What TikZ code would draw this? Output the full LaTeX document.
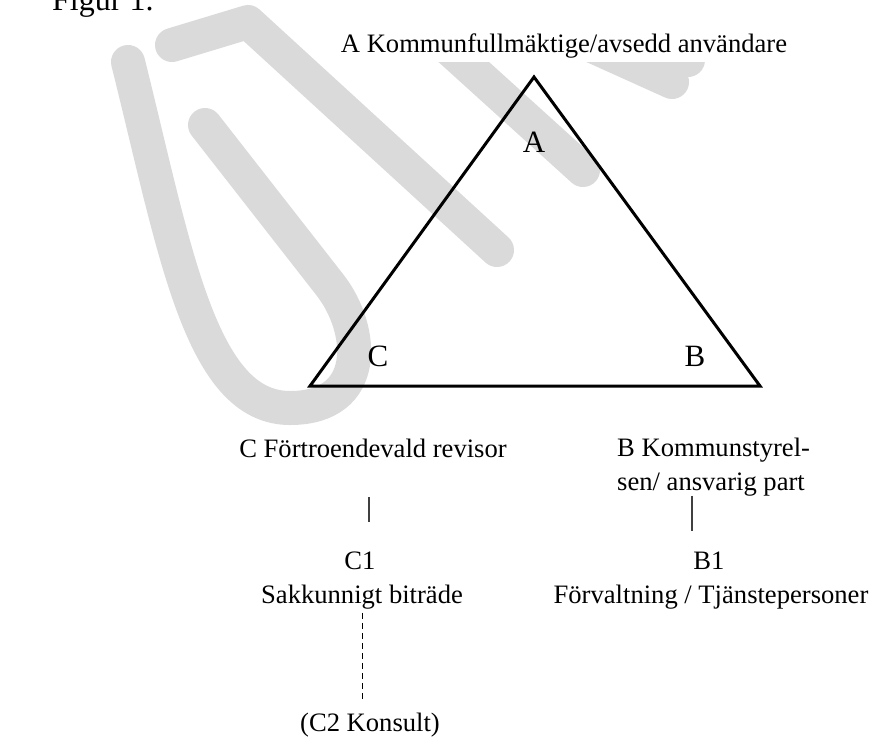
\documentclass[tikz,border=0pt]{standalone}
\usepackage{fontspec}
\setmainfont{Liberation Serif}
\usepackage{xcolor}
\definecolor{stampgrey}{HTML}{DADADA}

\begin{document}
\begin{tikzpicture}[x=1pt,y=-1pt,
				txt/.style={inner sep=0pt,font=\fontsize{26.6}{32}\selectfont},
				corner/.style={inner sep=0pt,font=\fontsize{31}{36}\selectfont},
				link/.style={line width=1.4pt,black!75},
				hint/.style={line width=0.9pt,dash pattern=on 6pt off 4pt},
				stamp/.style={line width=34pt,stampgrey,line cap=round,line join=round}]
				%\draw[help lines,step=50] (0,0) grid (870,740);
				\useasboundingbox (0,0) rectangle (870,740);
				
				% watermark
				\draw[stamp] (172,45) -- (248,22) -- (497,250);
				\draw[stamp] (128,62) .. controls (175,250) and (200,408) .. (290,408)
					.. controls (370,408) and (365,330) .. (330,285) -- (205,125);
				\draw[stamp] (445,45) -- (583,170);
				\draw[stamp] (590,45) -- (672,82);
				\draw[stamp] (600,20) -- (688,60);
				\fill[white] (335,0) rectangle (800,62);
				
				% triangle
				\coordinate (top) at (534,77);
				\coordinate (left) at (310,386);
				\coordinate (right) at (760,386);
				\draw[line width=3pt] (top) -- (right) -- (left) -- cycle;
				\node[corner] (A) at (534,142) {A};
				\node[corner] (B) at (695,356) {B};
				\node[corner] (C) at (378,356) {C};
				
				\node[txt,anchor=base west,font=\fontsize{32}{38}\selectfont] (fig) at (52,10) {Figur 1.};
				\node[txt,anchor=base] (kf) at (564,52) {A Kommunfullmäktige/avsedd användare};
				\node[txt,anchor=base] (crev) at (373,457) {C Förtroendevald revisor};
				\node[txt,anchor=base west] (ks) at (617,456) {B Kommunstyrel-};
				\node[txt,anchor=base west] (ksp) at (617,490) {sen/ ansvarig part};
				\node[txt,anchor=base] (c1) at (360,569) {C1};
				\node[txt,anchor=base] (sb) at (362,603) {Sakkunnigt biträde};
				\node[txt,anchor=base] (b1) at (709,569) {B1};
				\node[txt,anchor=base] (ft) at (711,603) {Förvaltning / Tjänstepersoner};
				\node[txt,anchor=base] (c2) at (370,731) {(C2 Konsult)};
				
				\draw[link,shorten <=40pt,shorten >=29pt] ([xshift=-4pt]crev.south) -- ([xshift=-4pt]crev.south |- c1.north);
				\draw[link,shorten >=20pt] ([xshift=-17pt]b1.north |- ksp.south) -- ([xshift=-17pt]b1.north);
				\draw[hint,shorten <=4pt,shorten >=12pt] (sb.south) -- (sb.south |- c2.north);
			\end{tikzpicture}
\end{document}
